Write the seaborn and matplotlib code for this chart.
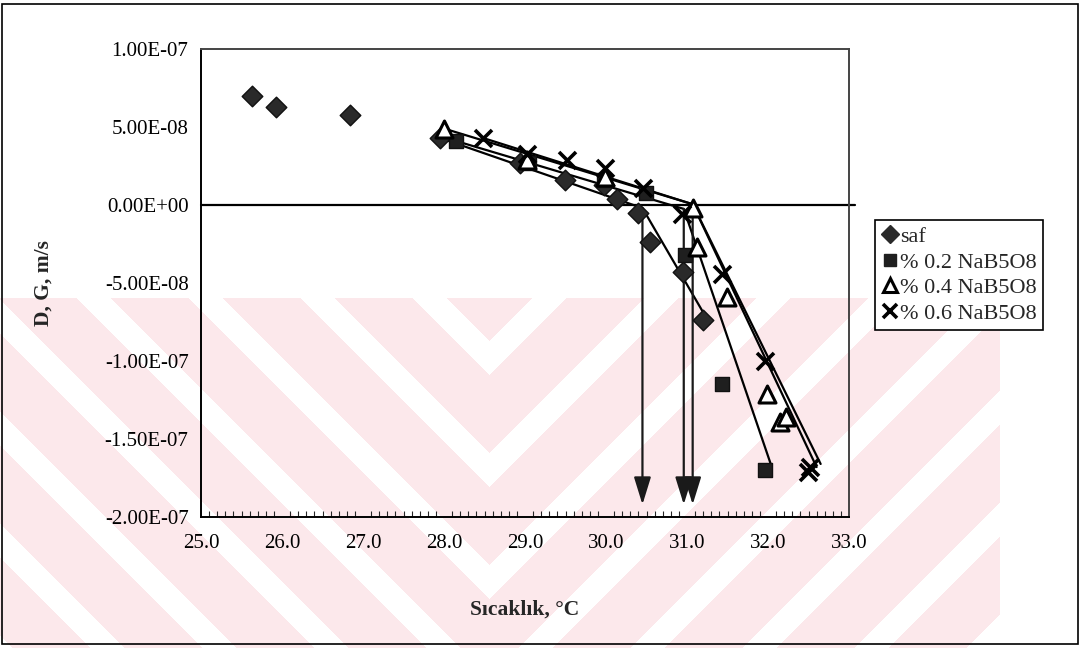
import numpy as np
import pandas as pd
import matplotlib
matplotlib.use("Agg")
import matplotlib.pyplot as plt
from matplotlib.lines import Line2D
from matplotlib.patches import Rectangle
import seaborn as sns

# Growth (+) / dissolution (-) rate versus temperature
saf_T = [25.63, 25.93, 26.84, 27.95, 28.94, 29.50, 29.98, 30.13, 30.40, 30.54, 30.95, 31.20]
saf_R = [7.0e-8, 6.3e-8, 5.8e-8, 4.3e-8, 2.7e-8, 1.6e-8, 1.3e-8, 0.4e-8, -0.5e-8, -2.4e-8, -4.3e-8, -7.4e-8]

b02_T = [28.15, 29.05, 29.98, 30.50, 30.98, 31.43, 31.96]
b02_R = [4.1e-8, 2.7e-8, 1.6e-8, 0.8e-8, -3.2e-8, -1.15e-7, -1.70e-7]

b04_T = [28.00, 29.03, 29.99, 31.07, 31.12, 31.49, 31.99, 32.15, 32.22]
b04_R = [4.9e-8, 2.9e-8, 1.8e-8, -0.2e-8, -2.7e-8, -5.9e-8, -1.21e-7, -1.39e-7, -1.36e-7]

b06_T = [28.48, 29.02, 29.52, 29.99, 30.46, 30.94, 31.43, 31.96, 32.49, 32.52]
b06_R = [4.3e-8, 3.3e-8, 2.9e-8, 2.4e-8, 1.1e-8, -0.6e-8, -4.4e-8, -1.0e-7, -1.71e-7, -1.68e-7]

# Linear trend branches: start, break point, end
saf_fit_T = [27.95, 30.45, 31.28]
saf_fit_R = [4.3e-8, -0.2e-8, -7.6e-8]
b02_fit_T = [28.15, 30.96, 32.04]
b02_fit_R = [4.1e-8, -0.25e-8, -1.67e-7]
b04_fit_T = [28.00, 31.07, 32.65]
b04_fit_R = [4.9e-8, 0.05e-8, -1.66e-7]
b06_fit_T = [28.48, 31.07, 32.60]
b06_fit_R = [4.3e-8, 0.05e-8, -1.68e-7]

# Saturation temperatures marked by arrows
sat_T = [30.45, 30.96, 31.07]
sat_R = [-0.2e-8, -0.25e-8, 0.05e-8]
arrow_tip_R = -1.92e-7

series_names = ["saf", "% 0.2 NaB5O8", "% 0.4 NaB5O8", "% 0.6 NaB5O8"]
x_ticks = [25.0, 26.0, 27.0, 28.0, 29.0, 30.0, 31.0, 32.0, 33.0]
y_ticks = [-2.0e-7, -1.5e-7, -1.0e-7, -5.0e-8, 0.0, 5.0e-8, 1.0e-7]

sns.set_style("white")
plt.rcParams["font.family"] = ["Liberation Serif", "DejaVu Serif"]

W, H = 1082, 648
fig = plt.figure(figsize=(W / 100, H / 100), dpi=100)
fig.patch.set_facecolor("white")

# faint page stamp: stacked pale chevrons in the lower part of the sheet
yy, xx = np.mgrid[0:H, 0:W]
chev = yy + np.abs(xx - 489)
gap = ((chev - 582 + 17) % 112) < 34
stamp = (~gap) & (yy >= 298) & (xx < 1000)
rgba = np.zeros((H, W, 4))
rgba[..., 0], rgba[..., 1], rgba[..., 2] = 0.992, 0.910, 0.925
rgba[..., 3] = stamp.astype(float)
bg = fig.add_axes([0, 0, 1, 1], zorder=-5)
bg.imshow(rgba, extent=(0, W, H, 0), interpolation="nearest", aspect="auto")
bg.set_xlim(0, W)
bg.set_ylim(H, 0)
bg.axis("off")

# outer chart frame
fig.add_artist(Rectangle((2 / W, 4 / H), 1076 / W, 640 / H, transform=fig.transFigure,
                         fill=False, lw=1.2, ec="black"))

ax_l, ax_r, ax_t, ax_b = 201, 849, 49, 517
ax = fig.add_axes([ax_l / W, 1 - ax_b / H, (ax_r - ax_l) / W, (ax_b - ax_t) / H])
ax.set_facecolor("none")

frames = []
for name, T, R in zip(series_names, [saf_T, b02_T, b04_T, b06_T], [saf_R, b02_R, b04_R, b06_R]):
    frames.append(pd.DataFrame({"T": T, "R": R, "seri": name}))
df = pd.concat(frames, ignore_index=True)

fits = [(saf_fit_T, saf_fit_R), (b02_fit_T, b02_fit_R), (b04_fit_T, b04_fit_R), (b06_fit_T, b06_fit_R)]
for T, R in fits:
    sns.lineplot(x=T, y=R, ax=ax, color="black", lw=1.6, sort=False, zorder=2)

for T, R in zip(sat_T, sat_R):
    ax.annotate("", xy=(T, arrow_tip_R), xytext=(T, R),
                arrowprops=dict(arrowstyle="-|>,head_length=0.42,head_width=0.13",
                                mutation_scale=40, color="#1a1a1a", lw=1.6,
                                shrinkA=0, shrinkB=0), zorder=3)

ax.axhline(0, xmin=0, xmax=1.01, color="black", lw=1.6, clip_on=False, zorder=1)

styles = {
    "saf": dict(marker="D", s=110, color="#2a2a2a", edgecolor="#111111", linewidth=1.0),
    "% 0.2 NaB5O8": dict(marker="s", s=100, color="#1f1f1f", edgecolor="#111111", linewidth=1.0),
    "% 0.4 NaB5O8": dict(marker="^", s=150, facecolor="white", edgecolor="black", linewidth=2.2),
    "% 0.6 NaB5O8": dict(marker="x", s=150, color="black", linewidth=2.6),
}
for name in series_names:
    sub = df[df["seri"] == name]
    sns.scatterplot(data=sub, x="T", y="R", ax=ax, zorder=4, legend=False, **styles[name])

ax.set_xlim(25.0, 33.0)
ax.set_ylim(-2.0e-7, 1.0e-7)
ax.set_xticks(x_ticks)
ax.set_xticklabels([f"{v:.1f}" for v in x_ticks])
ax.set_xticks(np.arange(25.0, 33.0001, 0.1), minor=True)
ax.set_yticks(y_ticks)
ax.set_yticklabels([f"{v:.2E}" for v in y_ticks])
ax.tick_params(axis="both", which="major", direction="out", length=6, width=1.0,
               labelsize=15, colors="black")
ax.tick_params(axis="y", which="major", pad=3)
ax.tick_params(axis="x", which="major", pad=6)
ax.tick_params(axis="x", which="minor", direction="in", length=4, width=0.8, bottom=True)
ax.tick_params(axis="y", which="minor", left=False)

for side in ["left", "bottom"]:
    ax.spines[side].set_color("black")
    ax.spines[side].set_linewidth(1.4)
for side in ["top", "right"]:
    ax.spines[side].set_color("#444444")
    ax.spines[side].set_linewidth(1.4)

ax.set_xlabel("Sıcaklık, °C", fontsize=15.5, fontweight="bold")
ax.xaxis.set_label_coords(0.5, -(600 - ax_b) / (ax_b - ax_t))
ax.set_ylabel("D, G, m/s", fontsize=15.5, fontweight="bold")
ax.yaxis.set_label_coords((54 - ax_l) / (ax_r - ax_l), 0.5)

handles = [
    Line2D([], [], ls="none", marker="D", markersize=9, color="#2a2a2a"),
    Line2D([], [], ls="none", marker="s", markersize=9, color="#1f1f1f"),
    Line2D([], [], ls="none", marker="^", markersize=10, markerfacecolor="white",
           markeredgecolor="black", markeredgewidth=2.2),
    Line2D([], [], ls="none", marker="x", markersize=10, color="black", markeredgewidth=2.6),
]
leg = fig.legend(handles, series_names, loc="upper right",
                 bbox_to_anchor=(1043 / W, 1 - 220 / H), frameon=True, fancybox=False,
                 edgecolor="black", framealpha=1, fontsize=16, handlelength=0.7,
                 handletextpad=0.1, borderpad=0.3, labelspacing=0.22, borderaxespad=0)
leg.get_frame().set_linewidth(1.2)

fig.savefig("out.png", dpi=100)
